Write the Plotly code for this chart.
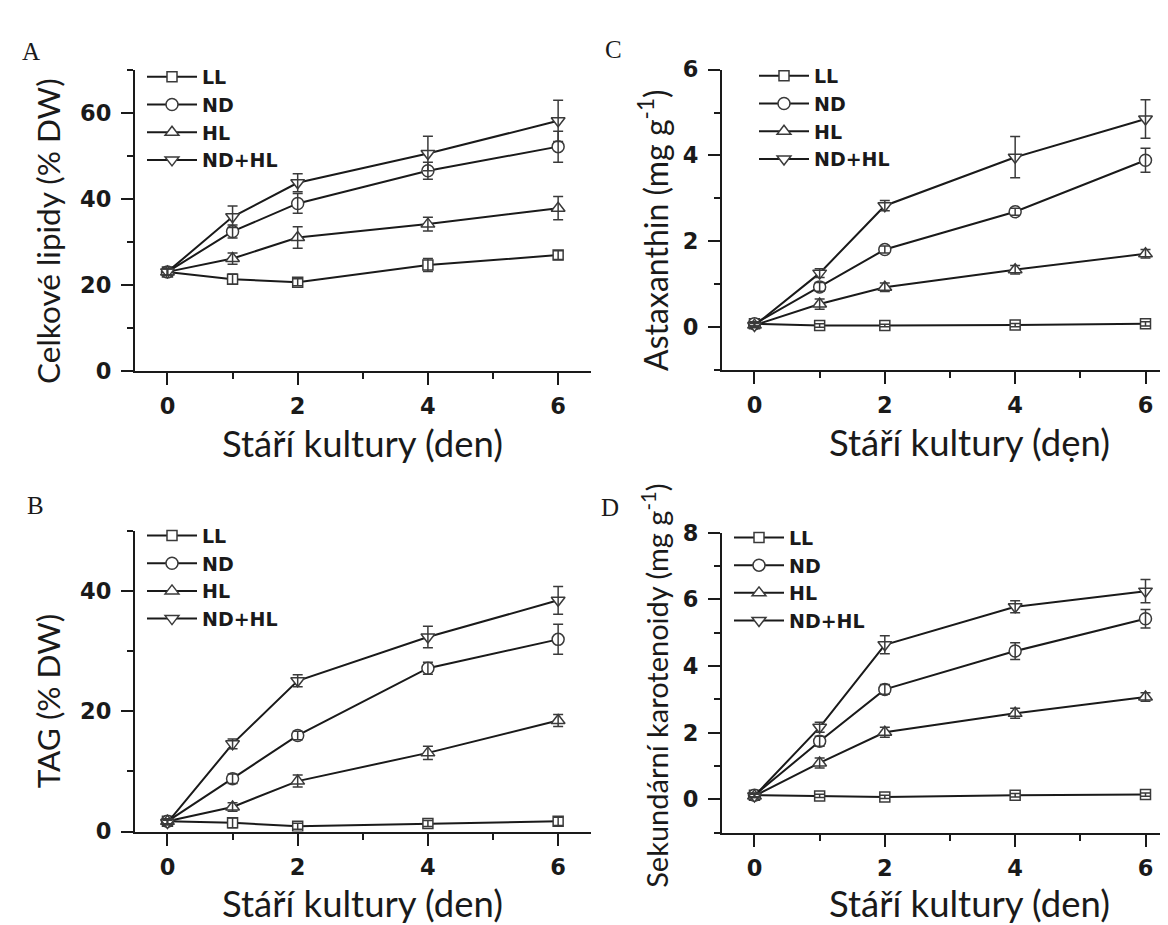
import plotly.graph_objects as go

W, H = 1168, 925

# ---------------- data ----------------
days = [0, 1, 2, 4, 6]
series = ["LL", "ND", "HL", "ND+HL"]
x_tickvals = [0, 2, 4, 6]

# A - total lipids (% DW)
lip_LL = [23.0, 21.3, 20.6, 24.6, 26.9]
lip_ND = [23.0, 32.4, 38.9, 46.5, 52.1]
lip_HL = [23.0, 26.1, 31.0, 34.1, 37.8]
lip_NDHL = [23.0, 35.8, 43.7, 50.5, 58.1]
lip_LL_err = [0.8, 1.2, 0.8, 1.5, 1.0]
lip_ND_err = [0.8, 1.5, 2.3, 2.0, 3.6]
lip_HL_err = [0.8, 1.3, 2.5, 1.6, 2.7]
lip_NDHL_err = [0.8, 2.5, 2.1, 4.0, 4.8]

# B - TAG (% DW)
tag_LL = [1.7, 1.45, 0.9, 1.35, 1.7]
tag_ND = [1.7, 8.8, 16.0, 27.2, 32.0]
tag_HL = [1.7, 4.1, 8.4, 13.1, 18.5]
tag_NDHL = [1.5, 14.6, 25.1, 32.4, 38.5]
tag_LL_err = [0.4, 0.8, 0.5, 0.5, 0.7]
tag_ND_err = [0.4, 0.8, 0.7, 1.0, 2.5]
tag_HL_err = [0.4, 0.7, 1.0, 1.1, 1.0]
tag_NDHL_err = [0.4, 0.8, 1.0, 1.8, 2.3]

# C - astaxanthin (mg/g)
ast_LL = [0.08, 0.04, 0.04, 0.05, 0.08]
ast_ND = [0.08, 0.94, 1.81, 2.69, 3.89]
ast_HL = [0.05, 0.54, 0.93, 1.34, 1.71]
ast_NDHL = [0.04, 1.26, 2.83, 3.96, 4.85]
ast_LL_err = [0.05, 0.04, 0.03, 0.04, 0.05]
ast_ND_err = [0.05, 0.10, 0.08, 0.08, 0.28]
ast_HL_err = [0.05, 0.12, 0.10, 0.10, 0.10]
ast_NDHL_err = [0.05, 0.10, 0.12, 0.48, 0.45]

# D - secondary carotenoids (mg/g)
car_LL = [0.12, 0.10, 0.07, 0.12, 0.14]
car_ND = [0.12, 1.74, 3.30, 4.45, 5.42]
car_HL = [0.10, 1.09, 2.01, 2.58, 3.07]
car_NDHL = [0.10, 2.16, 4.64, 5.78, 6.25]
car_LL_err = [0.05, 0.05, 0.05, 0.05, 0.05]
car_ND_err = [0.05, 0.15, 0.15, 0.25, 0.28]
car_HL_err = [0.05, 0.15, 0.15, 0.15, 0.13]
car_NDHL_err = [0.05, 0.15, 0.27, 0.18, 0.35]

# ---------------- styling ----------------
def px(x):
    return x / W

def py(y):
    return 1 - y / H

INK = "#1a1a1a"
TICK_FONT = dict(family="DejaVu Sans", size=22.5, color=INK, weight="bold")
LEG_FONT = dict(family="DejaVu Sans", size=19, color=INK, weight="bold")
TITLE_FONT = "Lato"
markers = {
    "LL": dict(symbol="square", size=10),
    "ND": dict(symbol="circle", size=12),
    "HL": dict(symbol="triangle-up", size=12),
    "ND+HL": dict(symbol="triangle-down", size=12),
}

panels = [
    dict(key="A", ax="", leg="legend",
         vals=[lip_LL, lip_ND, lip_HL, lip_NDHL],
         errs=[lip_LL_err, lip_ND_err, lip_HL_err, lip_NDHL_err],
         xdom=[px(126.9), px(582.7)], xrange=[-0.5, 6.5],
         ydom=[py(360), py(50)], yrange=[0, 70], dtick=20, mdtick=10,
         leg_xy=(134, 38)),
    dict(key="C", ax="2", leg="legend2",
         vals=[ast_LL, ast_ND, ast_HL, ast_NDHL],
         errs=[ast_LL_err, ast_ND_err, ast_HL_err, ast_NDHL_err],
         xdom=[px(713.9), 1.0], xrange=[-0.5, 6.468],
         ydom=[py(359.3), py(50)], yrange=[-1, 6], dtick=2, mdtick=1,
         leg_xy=(746, 37)),
    dict(key="B", ax="3", leg="legend3",
         vals=[tag_LL, tag_ND, tag_HL, tag_NDHL],
         errs=[tag_LL_err, tag_ND_err, tag_HL_err, tag_NDHL_err],
         xdom=[px(126.9), px(582.7)], xrange=[-0.5, 6.5],
         ydom=[py(834), py(525)], yrange=[0, 50], dtick=20, mdtick=10,
         leg_xy=(134, 510)),
    dict(key="D", ax="4", leg="legend4",
         vals=[car_LL, car_ND, car_HL, car_NDHL],
         errs=[car_LL_err, car_ND_err, car_HL_err, car_NDHL_err],
         xdom=[px(713.9), 1.0], xrange=[-0.5, 6.468],
         ydom=[py(835), py(526.7)], yrange=[-1, 8], dtick=2, mdtick=1,
         leg_xy=(721, 512)),
]

fig = go.Figure()
layout = dict(
    width=W, height=H,
    margin=dict(l=0, r=0, t=0, b=0),
    paper_bgcolor="white", plot_bgcolor="white",
    showlegend=True,
)

for p in panels:
    xa = "x" + p["ax"]
    ya = "y" + p["ax"]
    # lines + markers
    for name, v in zip(series, p["vals"]):
        m = markers[name]
        fig.add_trace(go.Scatter(
            x=days, y=v, name=name, mode="lines+markers",
            xaxis=xa, yaxis=ya, legend=p["leg"],
            line=dict(color=INK, width=2),
            marker=dict(symbol=m["symbol"], size=m["size"], color="white",
                        line=dict(color="#3a3a3a", width=1.5)),
            hoverinfo="skip",
        ))
    # error bars drawn on top of the markers
    for name, v, e in zip(series, p["vals"], p["errs"]):
        fig.add_trace(go.Scatter(
            x=days, y=v, mode="markers", showlegend=False,
            xaxis=xa, yaxis=ya,
            marker=dict(size=1, color="rgba(0,0,0,0)"),
            error_y=dict(type="data", array=e, visible=True,
                         color="#3a3a3a", thickness=1.5, width=5),
            hoverinfo="skip",
        ))

    xkey = "xaxis" + p["ax"]
    ykey = "yaxis" + p["ax"]
    layout[xkey] = dict(
        domain=p["xdom"], range=p["xrange"], anchor=ya,
        showline=True, linecolor=INK, linewidth=2,
        ticks="outside", ticklen=12, tickwidth=2, tickcolor=INK,
        tickvals=x_tickvals, tickfont=TICK_FONT, ticklabelstandoff=2,
        showgrid=False, zeroline=False,
        minor=dict(ticks="outside", ticklen=6, tickwidth=2, tickcolor=INK,
                   dtick=1, tick0=1, showgrid=False),
    )
    layout[ykey] = dict(
        domain=p["ydom"], range=p["yrange"], anchor=xa,
        showline=True, linecolor=INK, linewidth=2,
        ticks="outside", ticklen=12, tickwidth=2, tickcolor=INK,
        dtick=p["dtick"], tick0=0, tickfont=TICK_FONT, ticklabelstandoff=5,
        showgrid=False, zeroline=False,
        minor=dict(ticks="outside", ticklen=6, tickwidth=2, tickcolor=INK,
                   dtick=p["mdtick"], tick0=0, showgrid=False),
    )
    lx, ly = p["leg_xy"]
    layout[p["leg"]] = dict(
        x=px(lx), y=py(ly), xanchor="left", yanchor="top",
        bgcolor="rgba(0,0,0,0)", borderwidth=0,
        font=LEG_FONT, itemwidth=50, tracegroupgap=0,
    )

annotations = []
# panel letters
for letter, (lx, ly) in {"A": (23, 31), "B": (27, 499), "C": (605, 29), "D": (601.5, 501)}.items():
    annotations.append(dict(
        text=letter, x=px(lx), y=py(ly), xref="paper", yref="paper",
        xanchor="center", yanchor="middle", showarrow=False,
        font=dict(family="Liberation Serif", size=25, color=INK),
    ))

# x axis titles
x_title = "Stáří kultury (den)"
for text, (tx, ty) in [(x_title, (354, 434)), ("Stáří kultury (dẹn)", (961, 433.5)),
                       (x_title, (354, 907)), (x_title, (961, 907.5))]:
    annotations.append(dict(
        text=text, x=px(tx), y=py(ty), xref="paper", yref="paper",
        xanchor="center", yanchor="middle", showarrow=False,
        font=dict(family=TITLE_FONT, size=36.5, color=INK),
    ))

# y axis titles
for text, (tx, ty), size in [
    ("Celkové lipidy (% DW)", (40, 216), 31.5),
    ("Astaxanthin (mg g<sup>-1</sup>)", (645, 216), 32),
    ("TAG (% DW)", (40, 700), 31.5),
    ("Sekundární karotenoidy (mg g<sup>-1</sup>)", (647, 684), 29),
]:
    annotations.append(dict(
        text=text, x=px(tx), y=py(ty), xref="paper", yref="paper",
        xanchor="center", yanchor="middle", showarrow=False, textangle=-90,
        font=dict(family=TITLE_FONT, size=size, color=INK),
    ))

layout["annotations"] = annotations
fig.update_layout(**layout)
fig.write_html("out.html")
